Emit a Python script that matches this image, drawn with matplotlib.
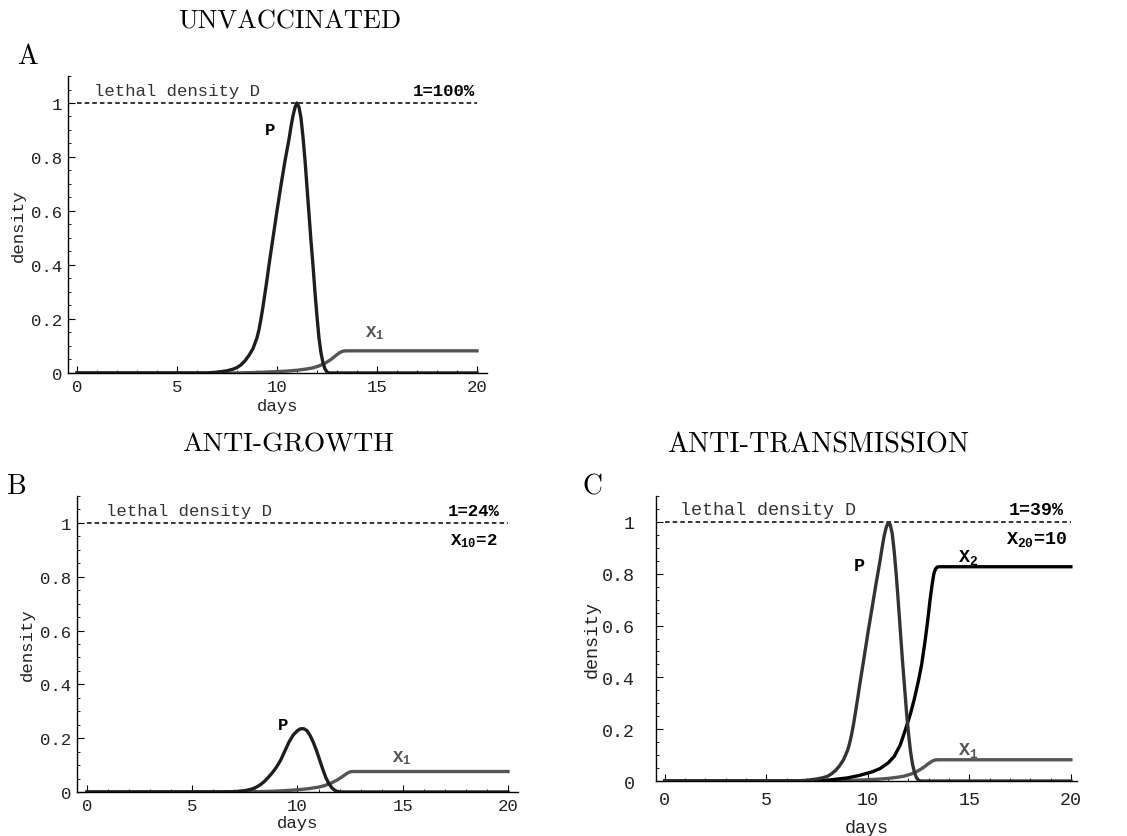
import matplotlib
matplotlib.use("Agg")
import matplotlib.pyplot as plt
from matplotlib.ticker import MultipleLocator

# ---- data ----
day_ticks = [0, 5, 10, 15, 20]
density_ticks = [0, 0.2, 0.4, 0.6, 0.8, 1.0]
density_labels = ["0", "0.2", "0.4", "0.6", "0.8", "1"]
lethal_density = 1.0

# panel A (unvaccinated): pathogen P and immune cells X1
pa_days = [0, 6.5, 7.0, 7.5, 7.8, 8.0, 8.2, 8.4, 8.6, 8.8, 9.0, 9.1, 9.2, 9.3, 9.4, 9.5, 9.6,
           9.8, 10.0, 10.2, 10.4, 10.6, 10.7, 10.8, 10.9, 11.0, 11.1, 11.2, 11.3, 11.4, 11.5,
           11.6, 11.7, 11.8, 11.9, 12.0, 12.1, 12.2, 12.3, 12.4, 12.5, 12.6, 20]
pa_vals = [0, 0, 0.003, 0.008, 0.014, 0.02, 0.03, 0.045, 0.065, 0.09, 0.13, 0.16, 0.2, 0.245,
           0.295, 0.345, 0.4, 0.5, 0.6, 0.695, 0.785, 0.865, 0.912, 0.952, 0.983, 1.0, 0.985,
           0.945, 0.875, 0.79, 0.69, 0.59, 0.49, 0.4, 0.3, 0.21, 0.13, 0.075, 0.038, 0.015,
           0.004, 0, 0]
xa_days = [0, 8, 9, 10, 10.5, 11, 11.5, 11.8, 12.1, 12.4, 12.7, 12.95, 13.15, 13.3, 13.45, 20]
xa_vals = [0, 0, 0.002, 0.005, 0.007, 0.01, 0.015, 0.019, 0.026, 0.036, 0.05, 0.065, 0.076,
           0.081, 0.082, 0.082]

# panel B (anti-growth)
pb_days = [0, 6.5, 7.0, 7.5, 7.8, 8.0, 8.2, 8.4, 8.6, 8.8, 9.0, 9.2, 9.4, 9.6, 9.8, 10.0,
           10.15, 10.3, 10.45, 10.6, 10.75, 10.9, 11.05, 11.2, 11.35, 11.5, 11.65, 11.8,
           11.95, 12.1, 20]
pb_vals = [0, 0, 0.001, 0.005, 0.01, 0.016, 0.025, 0.037, 0.053, 0.071, 0.092, 0.118, 0.152,
           0.186, 0.212, 0.228, 0.235, 0.235, 0.228, 0.21, 0.185, 0.155, 0.12, 0.085, 0.053,
           0.03, 0.014, 0.005, 0.001, 0, 0]
xb_days = [0, 8, 9, 10, 10.5, 11, 11.3, 11.6, 11.9, 12.15, 12.35, 12.5, 12.65, 20]
xb_vals = [0, 0.001, 0.003, 0.008, 0.012, 0.018, 0.024, 0.033, 0.045, 0.058, 0.069, 0.075,
           0.076, 0.076]

# panel C (anti-transmission)
pc_days = [0, 6.5, 7.0, 7.5, 7.8, 8.0, 8.2, 8.4, 8.6, 8.8, 9.0, 9.1, 9.2, 9.3, 9.4, 9.5, 9.6,
           9.8, 10.0, 10.2, 10.4, 10.6, 10.7, 10.8, 10.9, 11.0, 11.1, 11.2, 11.3, 11.4, 11.5,
           11.6, 11.7, 11.8, 11.9, 12.0, 12.1, 12.2, 12.3, 12.4, 12.5, 12.6, 20]
pc_vals = [0, 0, 0.003, 0.008, 0.013, 0.018, 0.027, 0.04, 0.058, 0.082, 0.118, 0.145, 0.18,
           0.222, 0.27, 0.32, 0.372, 0.47, 0.57, 0.665, 0.76, 0.85, 0.9, 0.945, 0.978, 0.997,
           0.99, 0.955, 0.885, 0.795, 0.69, 0.58, 0.47, 0.37, 0.27, 0.185, 0.115, 0.065, 0.032,
           0.012, 0.003, 0, 0]
x2c_days = [0, 7, 8, 9, 9.6, 10.2, 10.6, 11.0, 11.3, 11.6, 11.9, 12.1, 12.3, 12.5, 12.65,
            12.8, 12.95, 13.05, 13.15, 13.25, 13.33, 13.42, 13.55, 20]
x2c_vals = [0, 0, 0.003, 0.012, 0.022, 0.035, 0.048, 0.07, 0.095, 0.14, 0.21, 0.26, 0.32,
            0.39, 0.45, 0.53, 0.62, 0.69, 0.75, 0.8, 0.818, 0.826, 0.827, 0.827]
x1c_days = [0, 8, 9, 10, 10.5, 11, 11.5, 11.8, 12.1, 12.4, 12.7, 12.95, 13.15, 13.3, 13.45, 20]
x1c_vals = [0, 0, 0.002, 0.005, 0.007, 0.01, 0.015, 0.019, 0.026, 0.036, 0.05, 0.065, 0.076,
            0.081, 0.082, 0.082]

MONO = "Liberation Mono"
SERIF = "cmr10"
DARK = "#1e1e1e"
GRAY = "#555555"

fig = plt.figure(figsize=(11.27, 8.37), dpi=100)


def setup(ax, xlim, fs=12.5, ypad=4, xpad=4, xlabpad=2, ylabpad=4):
    ax.set_xlim(*xlim)
    ax.set_ylim(0, 1.1)
    for s in ("top", "right"):
        ax.spines[s].set_visible(False)
    for s in ("left", "bottom"):
        ax.spines[s].set_linewidth(1.0)
    ax.set_xticks(day_ticks)
    ax.set_xticklabels([str(d) for d in day_ticks])
    ax.set_yticks(density_ticks)
    ax.set_yticklabels(density_labels)
    ax.xaxis.set_minor_locator(MultipleLocator(1))
    ax.yaxis.set_minor_locator(MultipleLocator(0.05))
    ax.tick_params(which="major", direction="in", length=5, width=0.8)
    ax.tick_params(which="minor", direction="in", length=2.5, width=0.6)
    ax.tick_params(axis="y", which="major", pad=ypad)
    ax.tick_params(axis="x", which="major", pad=xpad)
    for lab in ax.get_xticklabels() + ax.get_yticklabels():
        lab.set_fontfamily(MONO)
        lab.set_fontsize(fs)
        lab.set_color("#222222")
    ax.set_xlabel("days", fontfamily=MONO, fontsize=fs, labelpad=xlabpad, color="#222222")
    ax.set_ylabel("density", fontfamily=MONO, fontsize=fs, labelpad=ylabpad, color="#222222")
    ax.plot([0, 20], [lethal_density, lethal_density], color="black", lw=1.1,
            linestyle=(0, (3, 2)))


def txt(ax, x, y, s, color="black", ha="center", fs=12.5, weight="bold"):
    ax.text(x, y, s, fontfamily=MONO, fontweight=weight, fontsize=fs,
            color=color, ha=ha, va="center")


LW = 2.4

# ---- panel A ----
axA = fig.add_axes([0.0603, 0.5532, 0.3718, 0.3548])
setup(axA, (-0.45, 20.5), xlabpad=3)
axA.plot(xa_days, xa_vals, color=GRAY, lw=LW)
axA.plot(pa_days, pa_vals, color=DARK, lw=LW)
txt(axA, 0.85, 1.048, "lethal density D", color="#333333", ha="left", weight="normal")
txt(axA, 9.65, 0.9, "P")
txt(axA, 14.9, 0.15, r"$\mathregular{X_1}$", color=GRAY)
txt(axA, 19.9, 1.048, "1=100%", ha="right")

# ---- panel B ----
axB = fig.add_axes([0.0683, 0.0526, 0.3913, 0.3536])
setup(axB, (-0.475, 20.475))
axB.plot(xb_days, xb_vals, color=GRAY, lw=LW)
axB.plot(pb_days, pb_vals, color=DARK, lw=LW)
txt(axB, 0.9, 1.048, "lethal density D", color="#333333", ha="left", weight="normal")
txt(axB, 9.3, 0.25, "P")
txt(axB, 14.95, 0.13, r"$\mathregular{X_1}$", color=GRAY)
txt(axB, 19.6, 1.048, "1=24%", ha="right")
txt(axB, 19.5, 0.935, r"$\mathregular{X_{10}}$=2", ha="right")

# ---- panel C ----
fsC = 13.2
axC = fig.add_axes([0.582, 0.0657, 0.3736, 0.3405])
setup(axC, (-0.44, 20.3), fs=fsC, ypad=15, xpad=7, xlabpad=8, ylabpad=1)
axC.plot(x1c_days, x1c_vals, color=GRAY, lw=LW)
axC.plot(x2c_days, x2c_vals, color="black", lw=LW)
axC.plot(pc_days, pc_vals, color="#333333", lw=LW)
txt(axC, 0.74, 1.048, "lethal density D", color="#333333", ha="left", weight="normal", fs=fsC)
txt(axC, 9.6, 0.83, "P", fs=fsC)
txt(axC, 14.95, 0.865, r"$\mathregular{X_2}$", fs=fsC)
txt(axC, 14.95, 0.12, r"$\mathregular{X_1}$", color=GRAY, fs=fsC)
txt(axC, 19.65, 1.048, "1=39%", ha="right", fs=fsC)
txt(axC, 19.8, 0.935, r"$\mathregular{X_{20}}$=10", ha="right", fs=fsC)

# ---- titles and panel letters ----
fig.text(290 / 1127, 1 - 22 / 837, "UNVACCINATED", fontfamily=SERIF, fontsize=19,
         ha="center", va="center")
fig.text(288 / 1127, 1 - 445 / 837, "ANTI-GROWTH", fontfamily=SERIF, fontsize=19.8,
         ha="center", va="center")
fig.text(818 / 1127, 1 - 445 / 837, "ANTI-TRANSMISSION", fontfamily=SERIF, fontsize=20.3,
         ha="center", va="center")
fig.text(28 / 1127, 1 - 57 / 837, "A", fontfamily=SERIF, fontsize=20, ha="center", va="center")
fig.text(17 / 1127, 1 - 487 / 837, "B", fontfamily=SERIF, fontsize=20, ha="center", va="center")
fig.text(593 / 1127, 1 - 487 / 837, "C", fontfamily=SERIF, fontsize=20, ha="center", va="center")

fig.savefig("out.png", dpi=100)
